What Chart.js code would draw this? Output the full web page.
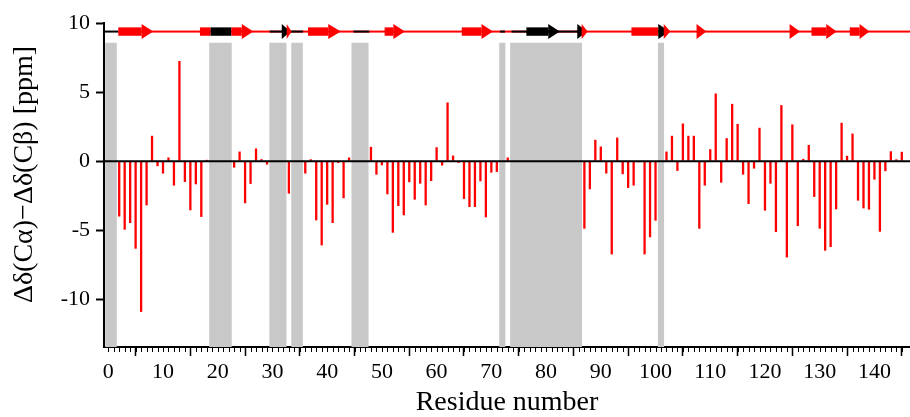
<!DOCTYPE html>
<html><head><meta charset="utf-8">
<script src="https://cdn.jsdelivr.net/npm/chart.js@4.4.1/dist/chart.umd.min.js"></script>
<style>html,body{margin:0;padding:0;background:#fff;}#wrap{width:910px;height:417px;position:relative;}</style>
</head><body><div id="wrap"><canvas id="c"></canvas></div>
<script>
// Residue numbers (categories)
const RESIDUES = [0,1,2,3,4,5,6,7,8,9,10,11,12,13,14,15,16,17,18,19,20,21,22,23,24,25,26,27,28,29,
30,31,32,33,34,35,36,37,38,39,40,41,42,43,44,45,46,47,48,49,50,51,52,53,54,55,56,57,58,59,
60,61,62,63,64,65,66,67,68,69,70,71,72,73,74,75,76,77,78,79,80,81,82,83,84,85,86,87,88,89,
90,91,92,93,94,95,96,97,98,99,100,101,102,103,104,105,106,107,108,109,110,111,112,113,114,115,116,117,118,119,
120,121,122,123,124,125,126,127,128,129,130,131,132,133,134,135,136,137,138,139,140,141,142,143,144,145];
// Δδ(Cα)−Δδ(Cβ) per residue, ppm (null = no value)
const DELTA = [null,null,-4.0,-4.95,-4.47,-6.33,-10.9,-3.19,1.84,-0.36,
-0.89,0.27,-1.76,7.25,-1.5,-3.55,-1.67,-4.03,0.1,null,
null,null,null,-0.46,0.7,-3.04,-1.64,0.92,0.15,-0.24,
null,null,null,-2.34,null,null,-0.89,0.14,-4.28,-6.09,
-3.14,-4.47,-0.12,-2.68,0.27,null,null,null,1.04,-0.97,
-0.29,-2.39,-5.17,-3.24,-3.91,-1.52,-2.78,-1.62,-3.19,-1.43,
1.01,-0.31,4.25,0.41,-0.12,-2.73,-3.31,-3.31,-1.45,-4.06,
-0.82,-0.77,null,0.27,null,null,null,null,null,null,
null,null,null,null,null,null,null,-4.88,-2.03,1.55,
1.06,-0.89,-6.74,1.71,-0.94,-1.93,-1.76,-0.07,-6.74,-5.5,
-4.3,null,0.7,1.84,-0.7,2.73,1.84,1.84,-4.88,-1.76,
0.87,4.9,-1.55,1.67,4.15,2.7,-0.97,-3.09,-0.53,2.42,
-3.57,-1.62,-5.12,4.06,-6.96,2.66,-4.69,0.17,1.18,-2.58,
-4.88,-6.47,-6.21,-3.48,2.78,0.39,2.0,-2.85,-3.41,-3.5,
-1.33,-5.1,-0.72,0.72,0.14,0.68];
// Residues shaded grey (unassigned)
const GRAY_RESIDUES = [0,1,19,20,21,22,30,31,32,34,35,45,46,47,72,74,75,76,77,78,79,80,81,82,83,84,85,86,101];
const GRAY_TOP = 8.55;
// Axis ranges and ticks
const X_MIN = -0.78, X_MAX = 146.5, X_STEP = 10;
const Y_MIN = -13.44, Y_MAX = 10, Y_STEP = 5;
// Secondary-structure strip (residue ranges), r = red, k = black
const SS_LEVEL = 9.38;
const SS_THIN = [[-0.78,1.8,'k'],[1.8,146.5,'r'],[29.5,35.6,'k'],[44.8,47.7,'k'],[71.6,72.5,'k'],[73.7,86.0,'k']];
const SS_BODY = [[1.83,6.1,'r'],[16.75,18.7,'r'],[18.7,22.5,'k'],[22.5,24.4,'r'],[36.5,40.2,'r'],[50.5,52.1,'r'],
[64.6,68.2,'r'],[76.4,80.4,'k'],[95.6,100.5,'r'],[128.5,131.2,'r'],[135.5,137.3,'r']];
const SS_HEAD = [[6.1,8.2,'r'],[24.4,26.5,'r'],[31.7,33.3,'k'],[32.6,33.5,'r'],[40.2,42.5,'r'],[52.1,54.2,'r'],
[68.2,70.3,'r'],[80.4,82.5,'k'],[85.7,87.5,'k'],[86.5,87.6,'r'],[100.5,102.6,'k'],[101.5,102.7,'r'],
[107.5,109.3,'r'],[124.5,126.4,'r'],[131.2,133.1,'r'],[137.3,139.1,'r']];

const COL = {r:'#ff0000', k:'#000000'};
const FONT = "'Liberation Serif','Times New Roman',serif";

const barData = [];
RESIDUES.forEach((r,i)=>{ if (DELTA[i] !== null) barData.push({x:r, y:DELTA[i]}); });
const grayData = GRAY_RESIDUES.map(r=>({x:r, y:[Y_MIN, GRAY_TOP]}));

const ssPlugin = {
  id:'ss',
  afterDatasetsDraw(chart){
    const xs = chart.scales.x, ys = chart.scales.y, ctx = chart.ctx;
    const yc = ys.getPixelForValue(SS_LEVEL);
    ctx.save();
    SS_THIN.forEach(([a,b,c])=>{
      ctx.fillStyle = COL[c];
      const x1 = xs.getPixelForValue(a), x2 = xs.getPixelForValue(b);
      ctx.fillRect(x1, yc-1, x2-x1, 2);
    });
    SS_BODY.forEach(([a,b,c])=>{
      ctx.fillStyle = COL[c];
      const x1 = xs.getPixelForValue(a), x2 = xs.getPixelForValue(b);
      ctx.fillRect(x1, yc-4.2, x2-x1, 8.4);
    });
    SS_HEAD.forEach(([a,b,c])=>{
      ctx.fillStyle = COL[c];
      const x1 = xs.getPixelForValue(a), x2 = xs.getPixelForValue(b);
      ctx.beginPath();
      ctx.moveTo(x1, yc-7.5); ctx.lineTo(x2, yc); ctx.lineTo(x1, yc+7.5); ctx.closePath();
      ctx.fill();
    });
    ctx.restore();
  },
  afterDraw(chart){
    const xs = chart.scales.x, ctx = chart.ctx;
    const yb = chart.chartArea.bottom;
    ctx.save();
    ctx.strokeStyle = '#000'; ctx.lineWidth = 1;
    RESIDUES.forEach(r=>{
      const px = Math.round(xs.getPixelForValue(r)) + 0.5;
      ctx.beginPath(); ctx.moveTo(px, yb); ctx.lineTo(px, yb+5); ctx.stroke();
    });
    ctx.restore();
  }
};

new Chart(document.getElementById('c'), {
  type:'bar',
  data:{ datasets:[
    {type:'line', data:[{x:X_MIN,y:0},{x:X_MAX,y:0}], borderColor:'#000', borderWidth:2, pointRadius:0, order:1},
    {data:barData, backgroundColor:'#ff0000', borderWidth:0, barPercentage:0.42, categoryPercentage:1, grouped:false, order:2},
    {data:grayData, backgroundColor:'#c8c8c8', borderWidth:0, barPercentage:1, categoryPercentage:1, grouped:false, order:3}
  ]},
  options:{
    responsive:true, maintainAspectRatio:false, animation:false,
    layout:{padding:{top:23,left:0,right:0,bottom:0}},
    plugins:{legend:{display:false}, tooltip:{enabled:false}},
    scales:{
      x:{type:'linear', min:X_MIN, max:X_MAX, offset:false,
        ticks:{stepSize:X_STEP, includeBounds:false, autoSkip:false, maxRotation:0, color:'#000', padding:3,
          font:{family:FONT, size:22}},
        grid:{drawOnChartArea:false, drawTicks:true, tickLength:9, tickWidth:1.5, tickColor:'#000'},
        border:{display:true, color:'#000', width:2},
        title:{display:true, text:'Residue number', color:'#000', font:{family:FONT, size:28, lineHeight:1}, padding:{top:0,bottom:0}},
        afterFit(s){ s.height = 70; }
      },
      y:{min:Y_MIN, max:Y_MAX,
        ticks:{stepSize:Y_STEP, includeBounds:false, color:'#000', padding:6, font:{family:FONT, size:22}},
        grid:{drawOnChartArea:false, drawTicks:true, tickLength:8, tickWidth:2, tickColor:'#000'},
        border:{display:true, color:'#000', width:2},
        title:{display:true, text:'   Δδ(Cα)−Δδ(Cβ) [ppm]', color:'#000', font:{family:FONT, size:28, lineHeight:1.2}, padding:{top:8,bottom:0}},
        afterFit(s){ s.width = 104; }
      }
    }
  },
  plugins:[ssPlugin]
});
</script></body></html>
